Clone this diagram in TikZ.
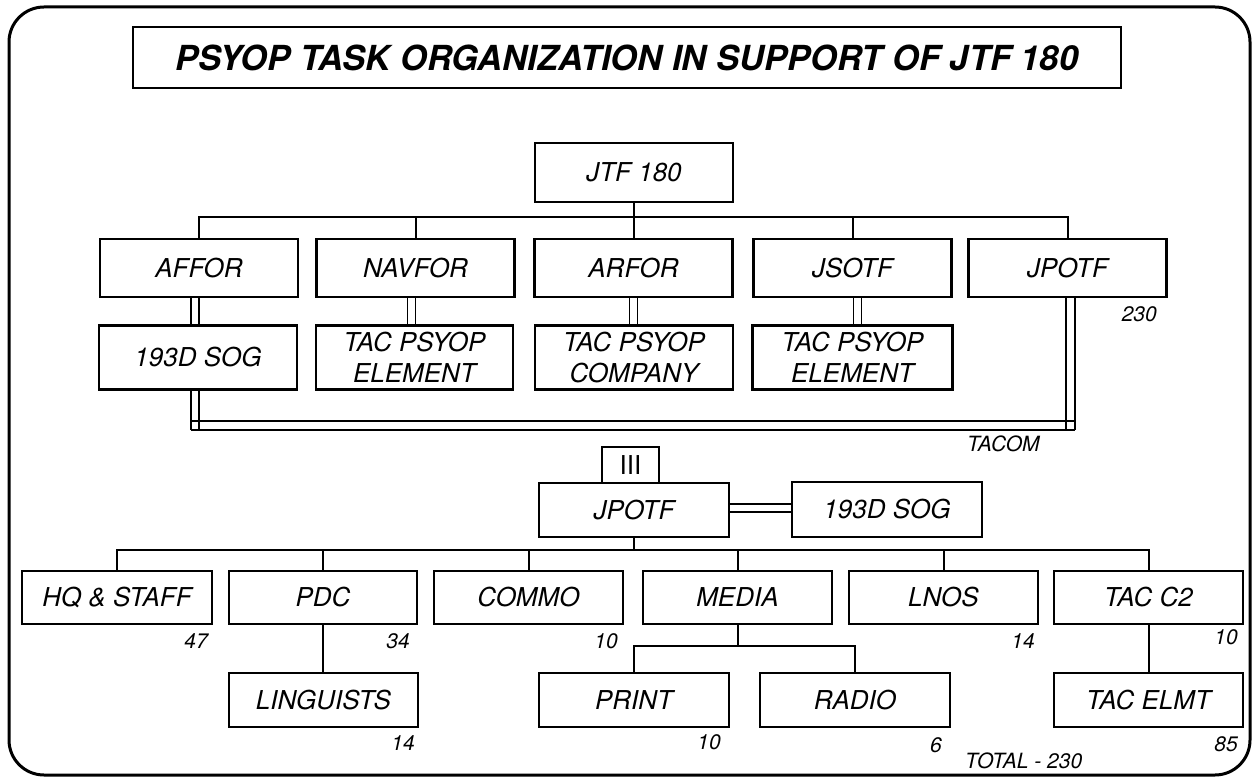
\documentclass[tikz,border=0pt]{standalone}
\usepackage{fontspec}
\setmainfont{TeX Gyre Heros}
\begin{document}
\begin{tikzpicture}[x=1pt,y=-1pt,
 box/.style={draw,line width=2.2pt,inner sep=0pt,font=\fontsize{26}{31}\selectfont\itshape,align=center},
 rowA/.style={box,minimum width=198pt,minimum height=58pt},
 rowB/.style={box,minimum width=198pt,minimum height=64pt},
 rowC/.style={box,minimum width=190pt,minimum height=53pt},
 rowD/.style={box,minimum width=190pt,minimum height=54pt},
 num/.style={inner sep=0pt,font=\fontsize{21}{24}\selectfont\itshape},
 conn/.style={line width=2pt},
 dline/.style={line width=1.3pt},
 dbl/.style={double,double distance=6.5pt,line width=1.3pt}]
\useasboundingbox (0,0) rectangle (1255,778);
\draw[line width=3pt,rounded corners=35pt] (9,7) rectangle (1250,775);

% title
\node[box,minimum width=988pt,minimum height=61pt,font=\fontsize{34.5}{40}\selectfont\bfseries\itshape] (title) at (627,57.5) {PSYOP TASK ORGANIZATION IN SUPPORT OF JTF 180};

% top level
\node[box,minimum width=198pt,minimum height=59pt] (jtf) at (634,172.5) {JTF 180};
\node[rowA] (affor) at (199,268) {AFFOR};
\node[rowA] (navfor) at (415.5,268) {NAVFOR};
\node[rowA] (arfor) at (633.5,268) {ARFOR};
\node[rowA] (jsotf) at (852.5,268) {JSOTF};
\node[rowA] (jpotfA) at (1067.5,268) {JPOTF};
\node[num,anchor=north east] (n230) at (1157,306) {230};

\node[rowB] (sogA) at (198,357.5) {193D SOG};
\node[rowB,minimum width=197pt] (tpeA) at (414.5,357.5) {TAC PSYOP\\ELEMENT};
\node[rowB] (tpc) at (634,357.5) {TAC PSYOP\\COMPANY};
\node[rowB,minimum width=200pt] (tpeB) at (852.5,357.5) {TAC PSYOP\\ELEMENT};

\coordinate (busA) at (0,217);
\draw[conn] (affor.north) |- (jpotfA.north |- busA) -- (jpotfA.north);
\draw[conn] (navfor.north) -- (navfor.north |- busA);
\draw[conn] (arfor.north) -- (arfor.north |- busA);
\draw[conn] (jsotf.north) -- (jsotf.north |- busA);
\draw[conn] (jtf.south) -- (jtf.south |- busA);

\draw[dbl] ([xshift=-4pt]affor.south) -- ([xshift=-4pt]affor.south |- sogA.north);
\draw[dbl] ([xshift=-4pt]navfor.south) -- ([xshift=-4pt]navfor.south |- tpeA.north);
\draw[dbl] (arfor.south) -- (arfor.south |- tpc.north);
\draw[dbl] ([xshift=5pt]jsotf.south) -- ([xshift=5pt]jsotf.south |- tpeB.north);

% TACOM link
\coordinate (tacA) at (0,421);
\coordinate (tacB) at (0,430);
\draw[dline] ([xshift=-7pt]sogA.south) -- ([xshift=-7pt]sogA.south |- tacB);
\draw[dline] ([xshift=1pt]sogA.south) -- ([xshift=1pt]sogA.south |- tacB);
\draw[dline] ([xshift=-1.5pt]jpotfA.south) -- ([xshift=-1.5pt]jpotfA.south |- tacB);
\draw[dline] ([xshift=7.5pt]jpotfA.south) -- ([xshift=7.5pt]jpotfA.south |- tacB);
\draw[dline] ([xshift=-7pt]sogA.south |- tacA) -- ([xshift=7.5pt]jpotfA.south |- tacA);
\draw[dline] ([xshift=-7pt]sogA.south |- tacB) -- ([xshift=7.5pt]jpotfA.south |- tacB);
\node[num,anchor=north west] (tacom) at (967,436) {TACOM};

% lower JPOTF
\node[box,minimum width=190pt,minimum height=54pt] (jpotfB) at (634,510) {JPOTF};
\node[box,font=\fontsize{26}{31}\selectfont,minimum width=57pt,minimum height=36pt] (iii) at (630.5,465) {III};
\node[box,minimum width=190pt,minimum height=55pt] (sogB) at (887,509.5) {193D SOG};
\draw[dbl] ([yshift=2pt]jpotfB.east) -- ([yshift=2pt]jpotfB.east -| sogB.west);

% third row
\node[rowC] (hq) at (117,597.5) {HQ \& STAFF};
\node[rowC,minimum width=188pt] (pdc) at (323,597.5) {PDC};
\node[rowC,minimum width=189pt] (commo) at (528.5,597.5) {COMMO};
\node[rowC,minimum width=189pt] (media) at (737.5,597.5) {MEDIA};
\node[rowC,minimum width=189pt] (lnos) at (943.5,597.5) {LNOS};
\node[rowC,minimum width=189pt] (tacc) at (1148.5,597.5) {TAC C2};

\coordinate (busB) at (0,550);
\draw[conn] (hq.north) |- (tacc.north |- busB) -- (tacc.north);
\draw[conn] (pdc.north) -- (pdc.north |- busB);
\draw[conn] (commo.north) -- (commo.north |- busB);
\draw[conn] (media.north) -- (media.north |- busB);
\draw[conn] (lnos.north) -- (lnos.north |- busB);
\draw[conn] (jpotfB.south) -- (jpotfB.south |- busB);

\node[num,anchor=north east] (n47) at (208,633) {47};
\node[num,anchor=north east] (n34) at (410,633) {34};
\node[num,anchor=north east] (n10a) at (618,633) {10};
\node[num,anchor=north east] (n14a) at (1035,633) {14};
\node[num,anchor=north east] (n10b) at (1238,629) {10};

% fourth row
\node[rowD,minimum width=189pt] (ling) at (323.5,700) {LINGUISTS};
\node[rowD] (print) at (634,700) {PRINT};
\node[rowD] (radio) at (855,700) {RADIO};
\node[rowD,minimum width=189pt] (elmt) at (1148.5,700) {TAC ELMT};

\draw[conn] (pdc.south) -- (pdc.south |- ling.north);
\draw[conn] (tacc.south) -- (tacc.south |- elmt.north);
\coordinate (busC) at (0,646);
\draw[conn] (media.south) -- (media.south |- busC);
\draw[conn] (print.north) |- (radio.north |- busC) -- (radio.north);

\node[num,anchor=north east] (n14b) at (415,735) {14};
\node[num,anchor=north east] (n10c) at (721,734) {10};
\node[num,anchor=north east] (n6) at (942,737) {6};
\node[num,anchor=north east] (n85) at (1238,736) {85};
\node[num,anchor=north west] (total) at (965,753) {TOTAL - 230};
\end{tikzpicture}
\end{document}
